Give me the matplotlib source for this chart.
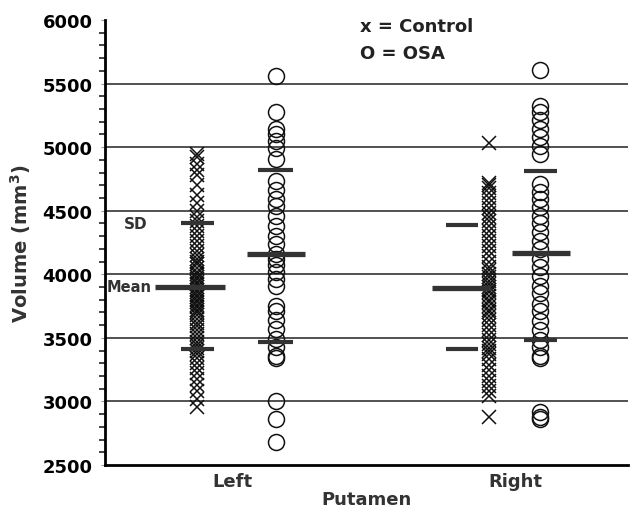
import numpy as np
import matplotlib
matplotlib.use('Agg')
from matplotlib import pyplot as plt
from matplotlib.ticker import MultipleLocator

# Data (volumes in mm3)
left_control = [4950, 4920, 4870, 4820, 4780, 4700, 4620, 4560, 4500, 4450, 4420, 4380,
                4340, 4300, 4260, 4220, 4180, 4150, 4120, 4100, 4080, 4050, 4020, 4000,
                3980, 3960, 3940, 3920, 3900, 3880, 3860, 3840, 3820, 3800, 3780, 3760,
                3740, 3720, 3700, 3680, 3650, 3620, 3590, 3560, 3530, 3500, 3470, 3440,
                3420, 3400, 3370, 3340, 3300, 3260, 3220, 3180, 3130, 3080, 3020, 2960]
left_osa = [5560, 5280, 5140, 5100, 5050, 4990, 4910, 4730, 4660, 4590, 4540, 4460,
            4380, 4300, 4240, 4160, 4120, 4070, 4020, 3960, 3910, 3750, 3710, 3640,
            3570, 3490, 3430, 3360, 3340, 3000, 2860, 2680]
right_control = [5030, 4720, 4700, 4680, 4640, 4600, 4560, 4520, 4480, 4450, 4420, 4380,
                 4340, 4300, 4260, 4220, 4180, 4140, 4100, 4060, 4030, 4000, 3980, 3950,
                 3920, 3900, 3880, 3860, 3830, 3800, 3780, 3750, 3720, 3700, 3670, 3640,
                 3600, 3560, 3520, 3480, 3450, 3420, 3400, 3370, 3330, 3290, 3250, 3200,
                 3160, 3120, 3080, 3040, 2880]
right_osa = [5610, 5320, 5280, 5210, 5140, 5080, 5010, 4950, 4710, 4650, 4590, 4530,
             4460, 4400, 4330, 4260, 4200, 4120, 4060, 3990, 3910, 3850, 3770, 3710,
             3630, 3560, 3480, 3430, 3360, 3340, 2920, 2880, 2860]

group_means = [3900, 4160, 3895, 4165]
group_sd_hi = [4400, 4820, 4385, 4810]
group_sd_lo = [3410, 3465, 3410, 3480]

sides = ['Left', 'Right']

# layout (x in axis units 0..10)
cols = [1.76, 3.27, 7.34, 8.32]
mean_span = [(0.96, 2.29), (2.72, 3.82), (6.25, 7.38), (7.78, 8.89)]
sd_span = [(1.45, 2.08), (2.93, 3.59), (6.52, 7.13), (8.01, 8.64)]

plt.rcParams['font.family'] = 'DejaVu Sans'
plt.rcParams['font.weight'] = 'bold'
plt.rcParams['axes.labelweight'] = 'bold'

fig = plt.figure(figsize=(6.3, 5.1), dpi=100)
ax = fig.add_axes([0.1667, 0.0863, 0.83, 0.8725])

for y in range(3000, 6000, 500):
    ax.axhline(y, color='#333333', lw=1.2, zorder=1)

groups = [left_control, left_osa, right_control, right_osa]
for i, vals in enumerate(groups):
    xs = np.full(len(vals), cols[i])
    if i % 2 == 0:
        ax.plot(xs, vals, 'x', ms=10.5, mew=1.1, color='#111111', zorder=3)
    else:
        ax.plot(xs, vals, 'o', ms=11.5, mfc='none', mew=1.1, mec='#111111', zorder=3)
    ax.hlines(group_means[i], *mean_span[i], color='#333333', lw=3.8, zorder=4)
    ax.hlines(group_sd_hi[i], *sd_span[i], color='#333333', lw=3.0, zorder=4)
    ax.hlines(group_sd_lo[i], *sd_span[i], color='#333333', lw=3.0, zorder=4)

ax.text(0.82, 4400, 'SD', ha='right', va='center', fontsize=11, color='#333333')
ax.text(0.9, 3900, 'Mean', ha='right', va='center', fontsize=10.5, color='#333333')

ax.text(4.87, 5950, 'x = Control', fontsize=13, color='#222222', va='center')
ax.text(4.87, 5740, 'O = OSA', fontsize=13, color='#222222', va='center')

ax.set_xlim(0, 10)
ax.set_ylim(2500, 6000)
ax.set_xticks([2.43, 7.84])
ax.set_xticklabels(sides, fontsize=13, color='#333333', fontweight='bold')
ax.tick_params(axis='x', length=0, pad=5)
ax.yaxis.set_major_locator(MultipleLocator(500))
ax.yaxis.set_minor_locator(MultipleLocator(100))
ax.tick_params(axis='y', which='major', length=3, width=0.8, color='#999999',
               labelsize=13, pad=6)
ax.tick_params(axis='y', which='minor', length=4, width=1.2, color='#222222')
for lab in ax.get_yticklabels():
    lab.set_fontweight('bold')

ax.set_ylabel('Volume (mm$^\\mathbf{3}$)', fontsize=14, color='#333333',
              fontweight='bold', labelpad=7)
ax.set_xlabel('Putamen', fontsize=13, color='#333333', fontweight='bold', labelpad=0)

ax.spines['top'].set_visible(False)
ax.spines['right'].set_visible(False)
ax.spines['left'].set_linewidth(2)
ax.spines['bottom'].set_linewidth(2)

fig.savefig('out.png', dpi=100)
